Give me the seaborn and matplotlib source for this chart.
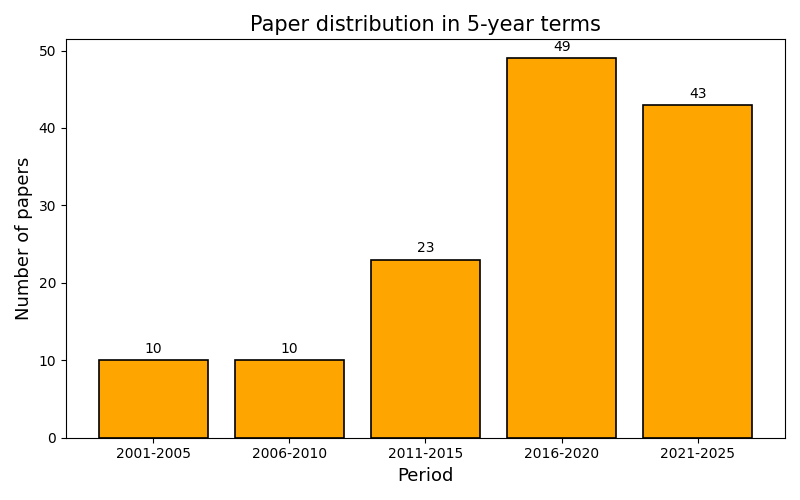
import matplotlib
matplotlib.use("Agg")
import matplotlib.pyplot as plt
import seaborn as sns
import pandas as pd

periods = ["2001-2005", "2006-2010", "2011-2015", "2016-2020", "2021-2025"]
papers = [10, 10, 23, 49, 43]

df = pd.DataFrame({"Period": periods, "Papers": papers})

fig, ax = plt.subplots(figsize=(8, 5), dpi=100)
sns.barplot(
    data=df, x="Period", y="Papers", color="orange", saturation=1,
    edgecolor="black", linewidth=1.2, width=0.8, ax=ax
)
for container in ax.containers:
    ax.bar_label(container, padding=3, fontsize=10)

# matplotlib-style 5% margins instead of seaborn's categorical limits
ax.set_xlim(-0.64, len(periods) - 1 + 0.64)

ax.set_title("Paper distribution in 5-year terms", fontsize=15)
ax.set_xlabel("Period", fontsize=13)
ax.set_ylabel("Number of papers", fontsize=13)
plt.tight_layout()
plt.savefig("out.png")
plt.close()
